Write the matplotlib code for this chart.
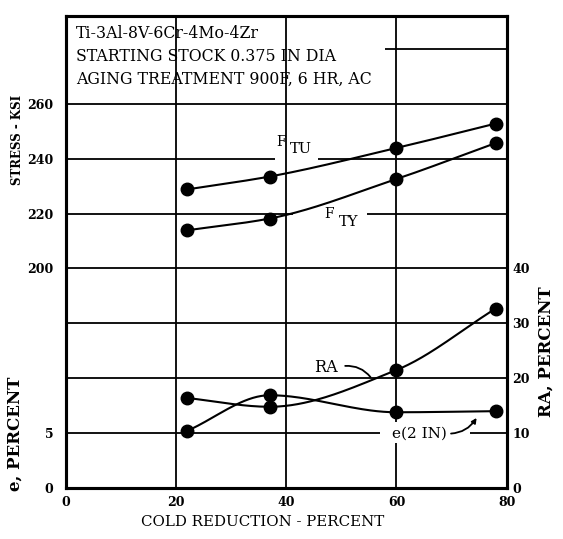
import matplotlib
matplotlib.use('Agg')
import matplotlib.pyplot as plt
import numpy as np

# values
reduction = [22, 37, 60, 78]                 # cold reduction, percent
ftu = [228.8, 233.5, 243.9, 252.8]           # ksi
fty = [213.9, 218.2, 232.6, 245.7]           # ksi
elong = [5.2, 8.45, 6.9, 7.0]                # e (2 in), percent
ra = [16.4, 14.8, 21.5, 32.7]                # reduction of area, percent

x_ticks = [0, 20, 40, 60, 80]
stress_ticks = [200, 220, 240, 260]
e_ticks = [0, 5]
ra_ticks = [0, 10, 20, 30, 40]

header = ['Ti-3Al-8V-6Cr-4Mo-4Zr',
          'STARTING STOCK 0.375 IN DIA',
          'AGING TREATMENT 900F, 6 HR, AC']

FONT = 'DejaVu Serif'
E_TOP = 43.0          # e axis top; stress = 120 + 4e, RA = 2e


def fair(xs, ys, n=60):
    # monotone cubic (Fritsch-Carlson) through the points, a stand-in for
    # the hand-faired curves of the original
    x = np.asarray(xs, float)
    y = np.asarray(ys, float)
    h = np.diff(x)
    d = np.diff(y) / h
    m = np.zeros_like(y)
    m[0], m[-1] = d[0], d[-1]
    for k in range(1, len(x) - 1):
        if d[k - 1] * d[k] > 0:
            w1 = 2 * h[k] + h[k - 1]
            w2 = h[k] + 2 * h[k - 1]
            m[k] = (w1 + w2) / (w1 / d[k - 1] + w2 / d[k])
    cx, cy = [], []
    t = np.linspace(0, 1, n)
    for k in range(len(x) - 1):
        h00 = 2 * t ** 3 - 3 * t ** 2 + 1
        h10 = t ** 3 - 2 * t ** 2 + t
        h01 = -2 * t ** 3 + 3 * t ** 2
        h11 = t ** 3 - t ** 2
        cx.extend(x[k] + t * h[k])
        cy.extend(h00 * y[k] + h10 * h[k] * m[k] + h01 * y[k + 1] + h11 * h[k] * m[k + 1])
    return cx, cy


fig = plt.figure(figsize=(5.63, 5.39), dpi=100)
rect = [65.7 / 563, 1 - 488 / 539, (506.7 - 65.7) / 563, (488 - 16) / 539]

ax = fig.add_axes(rect)
ax.set_xlim(0, 80)
ax.set_ylim(0, E_TOP)

ax_s = fig.add_axes(rect, frameon=False, sharex=ax)
ax_s.set_ylim(120, 120 + 4 * E_TOP)
ax_s.patch.set_visible(False)

ax_r = ax.twinx()
ax_r.set_ylim(0, 2 * E_TOP)

# ticks
ax.set_xticks(x_ticks)
ax.set_xticklabels([str(v) for v in x_ticks])
ax.set_yticks(e_ticks)
ax.set_yticklabels([str(v) for v in e_ticks])
ax_s.set_yticks(stress_ticks)
ax_s.set_yticklabels([str(v) for v in stress_ticks])
ax_s.tick_params(axis='x', bottom=False, labelbottom=False)
ax_r.set_yticks(ra_ticks)
ax_r.set_yticklabels([str(v) for v in ra_ticks])

for a in (ax, ax_s, ax_r):
    a.tick_params(length=0, labelsize=9)
    for lab in a.get_xticklabels() + a.get_yticklabels():
        lab.set_fontfamily(FONT)
        lab.set_fontweight('bold')
ax.tick_params(axis='y', pad=9)
ax_s.tick_params(axis='y', pad=9)
ax.tick_params(axis='x', pad=5.5)
ax_r.tick_params(axis='y', pad=4)

for a in (ax, ax_r):
    for sp in a.spines.values():
        sp.set_linewidth(2.2)
        sp.set_color('black')

# grid, drawn as segments so the labels sit in gaps like the original
gl = dict(color='black', lw=1.3, zorder=1)
for xv in (20, 40):
    ax.vlines(xv, 0, E_TOP, **gl)
ax.vlines(60, 0, 4.1, **gl)
ax.vlines(60, 6.0, E_TOP, **gl)
ax.hlines(5, 0, 57.0, **gl)
ax.hlines(5, 73.3, 80, **gl)
for yv in (10, 15, 20, 35):
    ax.hlines(yv, 0, 80, **gl)
ax.hlines(25, 0, 41.2, **gl)
ax.hlines(25, 54.7, 80, **gl)
ax.hlines(30, 0, 38.0, **gl)
ax.hlines(30, 45.8, 80, **gl)
ax.hlines(40, 57.9, 80, **gl)

# curves
line = dict(color='black', lw=1.5, zorder=4)
mark = dict(marker='o', ls='none', ms=9, color='black', zorder=5)
for a, ys in ((ax_s, ftu), (ax_s, fty), (ax, elong), (ax_r, ra)):
    cx, cy = fair(reduction, ys)
    a.plot(cx, cy, **line)
    a.plot(reduction, ys, **mark)

# header block
for i, s in enumerate(header):
    ax.text(1.9, 41.4 - 2.1 * i, s, family=FONT, fontsize=11.3,
            va='center', ha='left', zorder=3)

# curve labels
tl = dict(family=FONT, va='center', ha='center', zorder=3)
ax.text(39.1, 31.5, 'F', fontsize=10, **tl)
ax.text(42.7, 30.85, 'TU', fontsize=10.5, **tl)
ax.text(47.8, 24.95, 'F', fontsize=10, **tl)
ax.text(51.3, 24.2, 'TY', fontsize=10.5, **tl)
ax.text(47.2, 10.95, 'RA', fontsize=11.5, **tl)
ax.annotate('', xy=(55.6, 9.9), xytext=(50.2, 11.1),
            arrowprops=dict(arrowstyle='-', lw=1.3, color='black',
                            connectionstyle='arc3,rad=-0.3'), zorder=3)
ax.text(64.1, 4.95, 'e(2 IN)', fontsize=11, **tl)
ax.annotate('', xy=(74.8, 6.6), xytext=(69.4, 4.95),
            arrowprops=dict(arrowstyle='-|>', lw=1.3, color='black',
                            mutation_scale=7,
                            connectionstyle='angle3,angleA=0,angleB=60'),
            zorder=3)

# axis titles
fig.text(263 / 563, 1 - 522 / 539, 'COLD REDUCTION - PERCENT', family=FONT,
         fontsize=10.8, ha='center', va='center')
fig.text(18 / 563, 1 - 140 / 539, 'STRESS - KSI', family=FONT, fontsize=8.5,
         fontweight='bold', rotation=90, ha='center', va='center')
fig.text(15 / 563, 1 - 434 / 539, 'e, PERCENT', family=FONT, fontsize=12,
         fontweight='bold', rotation=90, ha='center', va='center')
fig.text(546 / 563, 1 - 352 / 539, 'RA, PERCENT', family=FONT, fontsize=12,
         fontweight='bold', rotation=90, ha='center', va='center')

fig.savefig('out.png', dpi=100)
